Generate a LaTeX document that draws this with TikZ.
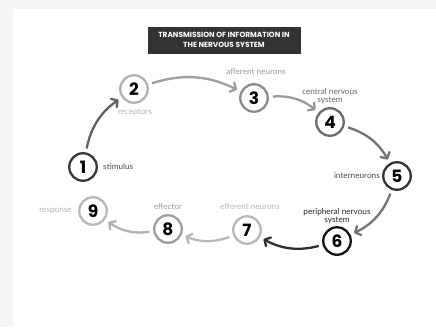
\documentclass[tikz,border=0pt]{standalone}
\usepackage{fontspec}
\setmainfont{Lato}
\newfontfamily\numfont{Poppins}
\usetikzlibrary{arrows.meta}

\definecolor{panelgray}{HTML}{F5F5F5}
\definecolor{titlebg}{HTML}{333333}

\tikzset{
  stage/.style={circle, draw=#1, line width=2.3pt, minimum size=27.5pt,
    inner sep=0pt, fill=white, text=black,
    font=\numfont\bfseries\fontsize{17}{17}\selectfont},
  lab/.style={text=#1, align=center, inner sep=1pt,
    font=\fontsize{8.2}{8.6}\selectfont},
  flow/.style={draw=#1, line width=2.3pt, bend left=22,
    -{Straight Barb[length=4.5pt,width=10pt,round]},
    shorten <=4pt, shorten >=4pt},
}

\begin{document}
\begin{tikzpicture}[x=1pt,y=-1pt]
    % page and panel
    \fill[panelgray] (0,0) rectangle (436,327);
    \fill[white] (13,9) rectangle (436,327);
    \useasboundingbox (0,0) rectangle (436,327);

    \node[fill=titlebg, text=white, align=center, minimum width=153pt,
      minimum height=27pt, inner sep=0pt,
      font=\numfont\bfseries\fontsize{7.4}{9.3}\selectfont]
      (title) at (224,40) {TRANSMISSION OF INFORMATION IN\\THE NERVOUS SYSTEM};

    % the stages
    \node[stage=black!78] (s1) at (83,167) {1};
    \node[stage=black!30] (s2) at (134,89) {2};
    \node[stage=black!45] (s3) at (254,98) {3};
    \node[stage=black!58] (s4) at (330,122) {4};
    \node[stage=black!80] (s5) at (397,176) {5};
    \node[stage=black!92] (s6) at (337,241) {6};
    \node[stage=black!28] (s7) at (247,230) {7};
    \node[stage=black!38] (s8) at (168,229) {8};
    \node[stage=black!28] (s9) at (93,211) {9};

    \node[lab=black!70, anchor=west] (stimulus) at (102,167) {stimulus};
    \node[lab=black!30] (receptors) at (135,112) {receptors};
    \node[lab=black!40] (afferent) at (256,72) {afferent neurons};
    \node[lab=black!60] (central) at (330,96) {central nervous\\system};
    \node[lab=black!70, anchor=east] (inter) at (381,176) {interneurons};
    \node[lab=black!85] (peripheral) at (337,216) {peripheral nervous\\system};
    \node[lab=black!28] (efferent) at (250,207) {efferent neurons};
    \node[lab=black!38] (effector) at (168,207) {effector};
    \node[lab=black!30, anchor=east] (response) at (73,211) {response};

    \draw[flow=black!62] (s1) to (s2);
    \draw[flow=black!38] (s2) to (s3);
    \draw[flow=black!40] (s3) to (s4);
    \draw[flow=black!55] (s4) to (s5);
    \draw[flow=black!55] (s5) to (s6);
    \draw[flow=black!82] (s6) to (s7);
    \draw[flow=black!28] (s7) to (s8);
    \draw[flow=black!30] (s8) to (s9);
  \end{tikzpicture}
\end{document}
